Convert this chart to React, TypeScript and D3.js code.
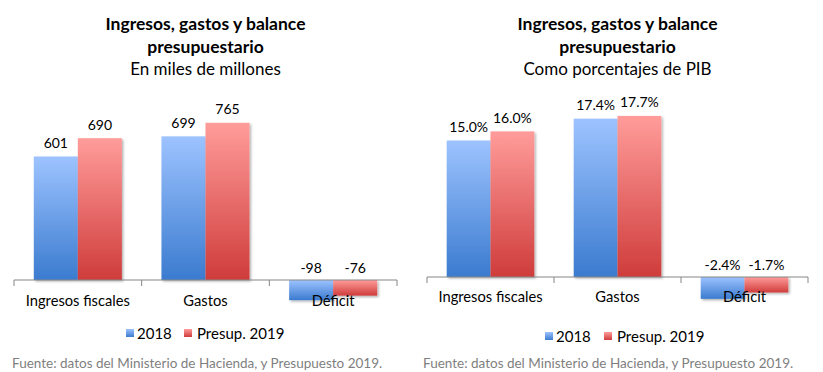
import React from "react";
import * as d3 from "d3";

const categories = ["Ingresos fiscales", "Gastos", "Déficit"];
const seriesNames = ["2018", "Presup. 2019"];
const valuesMiles2018 = [601, 699, -98];
const valuesMiles2019 = [690, 765, -76];
const valuesPib2018 = [15.0, 17.4, -2.4];
const valuesPib2019 = [16.0, 17.7, -1.7];
const titleLine1 = "Ingresos, gastos y balance";
const titleLine2 = "presupuestario";
const subtitleLeft = "En miles de millones";
const subtitleRight = "Como porcentajes de PIB";
const sourceText = "Fuente: datos del Ministerio de Hacienda, y Presupuesto 2019.";

const FONT = "Lato, 'Open Sans', sans-serif";
const gradIds = ["gBlue", "gRed"];

type PanelProps = {
  x0: number;
  x1: number;
  axisY: number;
  slope: number;
  s1: number[];
  s2: number[];
  fmt: (v: number) => string;
  subtitle: string;
  catY: number;
  legendY: number;
  legendX: number;
  legendX2: number;
  sourceX: number;
};

function Panel(p: PanelProps) {
  const xBand = d3.scaleBand<string>().domain(categories).range([p.x0, p.x1]).paddingInner(0).paddingOuter(0);
  const xSub = d3.scaleBand<string>().domain(seriesNames).range([0, xBand.bandwidth()]).paddingInner(0).paddingOuter(0.45);
  const y = d3.scaleLinear().domain([0, 10]).range([p.axisY, p.axisY - 10 * p.slope]);
  const series = [p.s1, p.s2];
  const cx = (p.x0 + p.x1) / 2;
  const ticks = [p.x0, ...categories.map((c) => (xBand(c) as number) + xBand.bandwidth())];
  return (
    <g>
      <text x={cx} y={23} textAnchor="middle" dominantBaseline="central" fontWeight="bold" fontSize={17.5} fill="#000">{titleLine1}</text>
      <text x={cx} y={46} textAnchor="middle" dominantBaseline="central" fontWeight="bold" fontSize={17.5} fill="#000">{titleLine2}</text>
      <text x={cx} y={68} textAnchor="middle" dominantBaseline="central" fontSize={17} fill="#000">{p.subtitle}</text>
      {series.map((vals, si) =>
        categories.map((c, ci) => {
          const v = vals[ci];
          const bx = (xBand(c) as number) + (xSub(seriesNames[si]) as number);
          const bw = xSub.bandwidth();
          const top = Math.min(y(v), y(0));
          const h = Math.abs(y(v) - y(0));
          return (
            <rect key={`${si}-${ci}`} x={bx} y={top} width={bw} height={h} fill={`url(#${gradIds[si]})`} filter="url(#shadow)" />
          );
        })
      )}
      <line x1={p.x0} x2={p.x1} y1={p.axisY} y2={p.axisY} stroke="#868686" strokeWidth={1} />
      {ticks.map((t, i) => (
        <line key={i} x1={t} x2={t} y1={p.axisY} y2={p.axisY + 6} stroke="#868686" strokeWidth={1} />
      ))}
      {series.map((vals, si) =>
        categories.map((c, ci) => {
          const v = vals[ci];
          const bx = (xBand(c) as number) + (xSub(seriesNames[si]) as number) + xSub.bandwidth() / 2;
          const ly = v >= 0 ? y(v) - 14 : y(0) - 13;
          return (
            <text key={`l${si}-${ci}`} x={bx} y={ly} textAnchor="middle" dominantBaseline="central" fontSize={14} fill="#000">{p.fmt(v)}</text>
          );
        })
      )}
      {categories.map((c) => (
        <text key={c} x={(xBand(c) as number) + xBand.bandwidth() / 2} y={p.catY} textAnchor="middle" dominantBaseline="central" fontSize={14.7} fill="#000">{c}</text>
      ))}
      <g transform={`translate(${p.legendX},${p.legendY})`}>
        <rect x={0} y={-4} width={8} height={8} fill="url(#gBlue)" />
        <text x={11} y={0} dominantBaseline="central" fontSize={15} fill="#000">{seriesNames[0]}</text>
        <rect x={p.legendX2} y={-4} width={8} height={8} fill="url(#gRed)" />
        <text x={p.legendX2 + 13} y={0} dominantBaseline="central" fontSize={15} fill="#000">{seriesNames[1]}</text>
      </g>
      <text x={p.sourceX} y={363} dominantBaseline="central" fontSize={13.5} fill="#7f7f7f">{sourceText}</text>
    </g>
  );
}

export default function App() {
  const fmtM = (v: number) => String(v);
  const fmtP = (v: number) => v.toFixed(1) + "%";
  return (
    <svg width={823} height={372} style={{ position: "absolute", left: 0, top: 0, fontFamily: FONT }}>
      <defs>
        <linearGradient id="gBlue" x1="0" y1="0" x2="0" y2="1">
          <stop offset="0" stopColor="#9dc3ff" />
          <stop offset="1" stopColor="#3b7bcf" />
        </linearGradient>
        <linearGradient id="gRed" x1="0" y1="0" x2="0" y2="1">
          <stop offset="0" stopColor="#ff9c9a" />
          <stop offset="1" stopColor="#cf3c3b" />
        </linearGradient>
        <filter id="shadow" x="-10%" y="-10%" width="130%" height="130%">
          <feDropShadow dx={1.5} dy={1.5} stdDeviation={1.2} floodColor="#000" floodOpacity={0.3} />
        </filter>
      </defs>
      <rect x={0} y={0} width={823} height={372} fill="#fff" />
      <Panel x0={14} x1={397} axisY={280} slope={0.2055} s1={valuesMiles2018} s2={valuesMiles2019} fmt={fmtM}
        subtitle={subtitleLeft} catY={300} legendY={333} legendX={126} legendX2={58} sourceX={12} />
      <Panel x0={427} x1={808} axisY={277} slope={9.1} s1={valuesPib2018} s2={valuesPib2019} fmt={fmtP}
        subtitle={subtitleRight} catY={296} legendY={336} legendX={545} legendX2={59} sourceX={423} />
    </svg>
  );
}
